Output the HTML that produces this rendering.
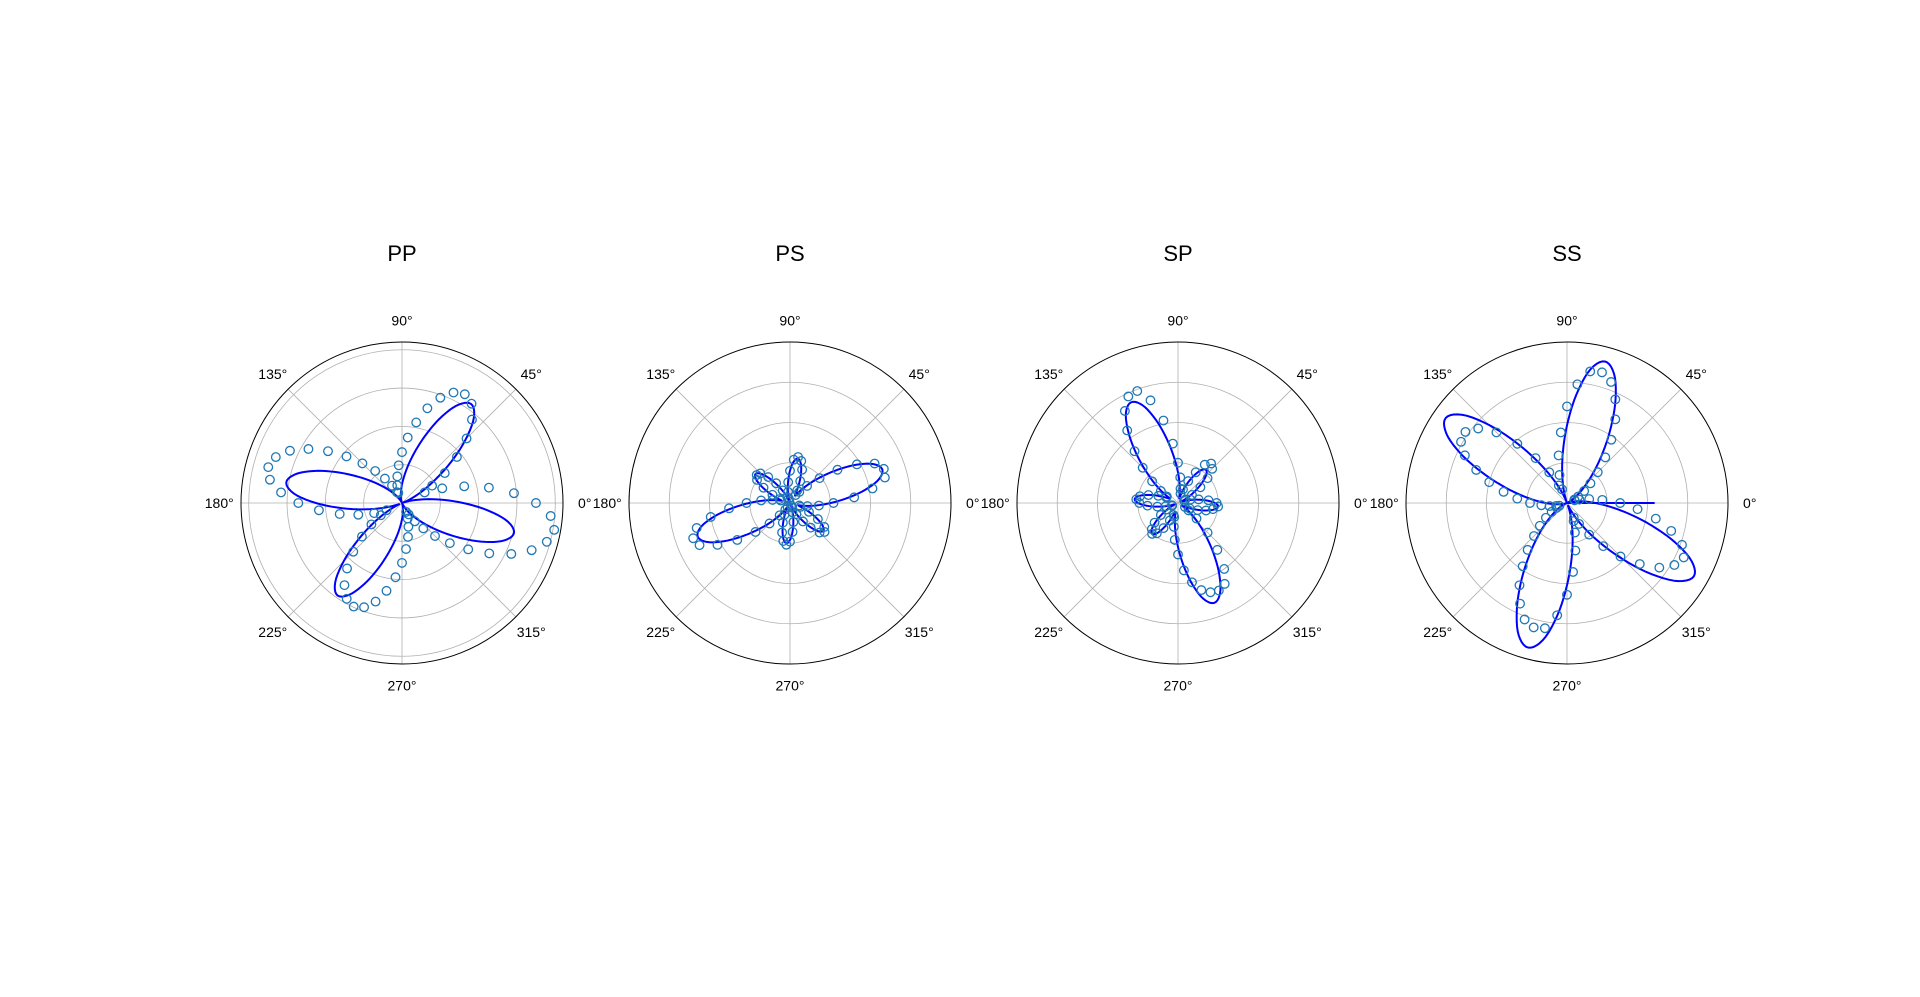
<!DOCTYPE html>
<html><head><meta charset="utf-8"><style>
html,body{margin:0;padding:0;background:#fff;}
svg{display:block;font-family:"Liberation Sans","DejaVu Sans",sans-serif;}
</style></head><body>
<svg id="fig" width="1920" height="997" viewBox="0 0 1920 997" xmlns="http://www.w3.org/2000/svg"></svg>
<script>
// angles of samples (degrees), every 5 degrees
const sampleAngles = Array.from({length:72},(_,i)=>i*5);
const panelTitles = ["PP","PS","SP","SS"];
const angleTickLabels = ["0°","45°","90°","135°","180°","225°","270°","315°"];
const ppRings = [0.238,0.476,0.714,0.952];
const stdRings = [0.25,0.5,0.75];
const ppFit = [.38,.24,.13,.05,0,.055,.14,.25,.40,.56,.695,.75,.706,.598,.467,.347,.249,.172,.116,.073,.043,.02,.005,.005,.02,.042,.071,.112,.167,.242,.337,.455,.582,.687,.73,.674,.535,.371,.224,.111,.03,.028,.106,.215,.356,.513,.646,.70,.659,.556,.433,.318,.226,.154,.101,.062,.034,.014,0,.014,.035,.063,.104,.159,.232,.328,.445,.572,.678,.72,.668,.537];
const ppData = [.832,.698,.548,.40,.266,.155,.216,.324,.445,.567,.676,.753,.78,.757,.696,.609,.508,.408,.316,.235,.168,.113,.067,.074,.124,.185,.259,.348,.45,.561,.671,.768,.834,.86,.833,.754,.644,.518,.393,.281,.184,.106,.152,.232,.325,.428,.531,.623,.687,.71,.689,.634,.554,.463,.372,.287,.214,.153,.103,.061,.082,.139,.206,.29,.388,.502,.626,.749,.857,.931,.96,.927];
const psFit = [.253,.359,.475,.572,.61,.572,.475,.359,.253,.168,.102,.056,.076,.134,.201,.257,.28,.257,.201,.134,.076,.031,0,.031,.076,.134,.201,.257,.28,.257,.201,.134,.076,.056,.102,.168,.253,.359,.475,.572,.61,.572,.475,.359,.253,.168,.102,.056,.028,.068,.12,.179,.23,.25,.23,.179,.12,.068,.028,0,.073,.13,.194,.248,.27,.248,.194,.13,.073,.056,.102,.168];
const psData = [.27,.40,.52,.61,.62,.58,.48,.36,.24,.15,.09,.06,.09,.15,.22,.27,.29,.27,.20,.13,.07,.03,.01,.04,.09,.15,.21,.26,.27,.25,.19,.12,.07,.06,.11,.18,.27,.38,.50,.60,.64,.62,.52,.40,.28,.18,.10,.05,.03,.08,.13,.19,.24,.26,.24,.18,.12,.06,.03,.02,.08,.14,.20,.26,.28,.26,.20,.13,.07,.06,.11,.18];
const spFit = [.23,.179,.12,.068,.028,.03,.073,.13,.194,.248,.27,.248,.194,.13,.073,.03,.063,.116,.19,.286,.406,.537,.647,.69,.647,.537,.406,.286,.19,.116,.063,.073,.13,.194,.248,.27,.248,.194,.13,.073,.03,.028,.068,.12,.179,.23,.25,.23,.179,.12,.068,.06,.111,.182,.273,.388,.513,.618,.66,.618,.513,.388,.273,.182,.111,.06,.028,.068,.12,.179,.23,.25];
const spData = [.24,.19,.13,.08,.04,.05,.10,.17,.24,.30,.32,.29,.22,.15,.09,.06,.09,.16,.25,.37,.52,.66,.74,.73,.66,.55,.42,.31,.21,.13,.08,.08,.13,.19,.24,.26,.24,.19,.13,.08,.04,.04,.08,.13,.19,.23,.25,.23,.18,.12,.08,.09,.15,.23,.32,.42,.50,.56,.59,.60,.58,.50,.38,.26,.15,.08,.05,.08,.13,.18,.22,.25];
const ssFit = [.176,.108,.059,.026,.004,.004,.026,.059,.108,.176,.27,.394,.547,.714,.854,.91,.844,.678,.482,.305,.167,.067,0,.068,.169,.309,.487,.686,.853,.92,.866,.731,.568,.419,.297,.203,.133,.081,.044,.018,0,.018,.045,.082,.134,.205,.30,.423,.575,.738,.876,.93,.865,.704,.511,.337,.199,.097,.026,.026,.094,.194,.329,.50,.689,.846,.91,.854,.714,.547,.394,.27];
const ssData = [.33,.22,.14,.08,.05,.05,.08,.13,.19,.27,.37,.48,.60,.71,.80,.84,.83,.74,.60,.44,.30,.18,.09,.12,.22,.34,.48,.62,.72,.77,.76,.70,.60,.50,.40,.31,.23,.16,.11,.07,.05,.07,.11,.16,.22,.29,.38,.48,.59,.69,.77,.80,.79,.70,.57,.43,.30,.19,.12,.10,.15,.24,.35,.47,.59,.70,.77,.80,.76,.67,.56,.44];
const ssSpokeLength = [0.54];

const panels = [
 {title:panelTitles[0], cx:402, fit:ppFit, data:ppData, rings:ppRings, spoke:null},
 {title:panelTitles[1], cx:790, fit:psFit, data:psData, rings:stdRings, spoke:null},
 {title:panelTitles[2], cx:1178, fit:spFit, data:spData, rings:stdRings, spoke:null},
 {title:panelTitles[3], cx:1567, fit:ssFit, data:ssData, rings:stdRings, spoke:ssSpokeLength}
];
const CY=503, R=161, NS="http://www.w3.org/2000/svg";
const svg=document.getElementById('fig');
function mk(tag,attrs,parent){const e=document.createElementNS(NS,tag);for(const k in attrs)e.setAttribute(k,attrs[k]);(parent||svg).appendChild(e);return e;}
function interp(vals,deg){ // periodic Catmull-Rom in angle
  const n=vals.length, t=deg/5, i=Math.floor(t), f=t-i;
  const p0=vals[(i-1+n)%n],p1=vals[i%n],p2=vals[(i+1)%n],p3=vals[(i+2)%n];
  return 0.5*((2*p1)+(-p0+p2)*f+(2*p0-5*p1+4*p2-p3)*f*f+(-p0+3*p1-3*p2+p3)*f*f*f);
}
panels.forEach((p,pi)=>{
  const g=mk('g',{});
  
  
  const X=(r,a)=>p.cx+r*R*Math.cos(a*Math.PI/180);
  const Y=(r,a)=>CY-r*R*Math.sin(a*Math.PI/180);
  p.rings.forEach(rv=>{
    const c=mk('circle',{cx:p.cx,cy:CY,r:rv*R,fill:'none',stroke:'#b0b0b0','stroke-width':0.8},g);
    
    
  });
  for(let k=0;k<8;k++){
    const a=k*45;
    const l=mk('line',{x1:p.cx,y1:CY,x2:X(1,a),y2:Y(1,a),stroke:'#b0b0b0','stroke-width':0.8},g);
    
    
    const t=mk('text',{x:X(1.135,a),y:Y(1.135,a)+5,'text-anchor':'middle','font-size':14,fill:'#000'},g);
    t.textContent=angleTickLabels[k];
    
    
  }
  const oc=mk('circle',{cx:p.cx,cy:CY,r:R,fill:'none',stroke:'#000','stroke-width':1},g);
  
  
  let d='';
  for(let a=0;a<=360;a++){const r=Math.max(0,interp(p.fit,a%360));d+=(a?'L':'M')+X(r,a).toFixed(2)+','+Y(r,a).toFixed(2);}
  if(p.spoke){d='M'+p.cx+','+CY+'L'+X(p.spoke[0],0).toFixed(2)+','+CY+d.replace('M','L');}
  const path=mk('path',{d:d,fill:'none',stroke:'#0000ff','stroke-width':2,'stroke-linejoin':'round'},g);
  
  
  p.data.forEach((r,i)=>{
    const a=sampleAngles[i];
    const c=mk('circle',{cx:X(r,a),cy:Y(r,a),r:4.3,fill:'none',stroke:'#1f77b4','stroke-width':1.3},g);
    
    
  });
  const tt=mk('text',{x:p.cx,y:261,'text-anchor':'middle','font-size':22,fill:'#000'},g);
  tt.textContent=p.title;
  
  
});
</script>
</body></html>
